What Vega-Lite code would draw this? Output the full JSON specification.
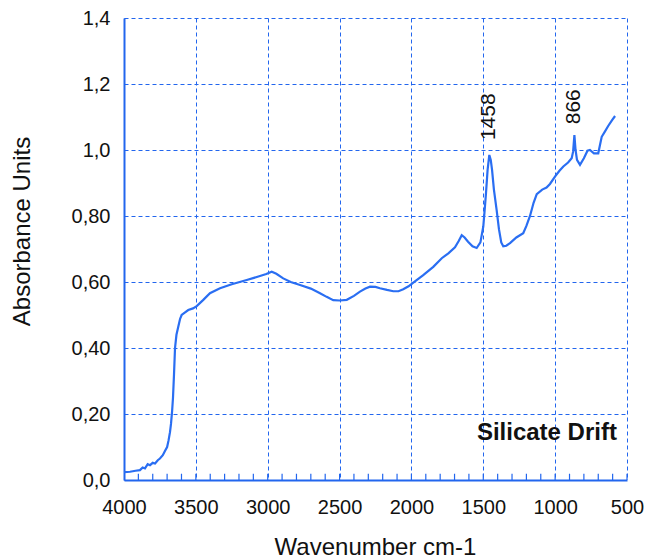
{
  "$schema": "https://vega.github.io/schema/vega-lite/v6.json",
  "width": 503,
  "height": 462,
  "autosize": {"type": "none"},
  "padding": {"left": 124, "top": 18, "right": 19, "bottom": 78},
  "background": "white",
  "config": {
    "view": {"stroke": null},
    "font": "Liberation Sans"
  },
  "datasets": {
    "spectrum": [
      {"w": 4000, "a": 0.024}, {"w": 3958, "a": 0.025}, {"w": 3920, "a": 0.028}, {"w": 3889, "a": 0.03},
      {"w": 3870, "a": 0.038}, {"w": 3854, "a": 0.035}, {"w": 3835, "a": 0.048}, {"w": 3819, "a": 0.045},
      {"w": 3800, "a": 0.052}, {"w": 3784, "a": 0.05}, {"w": 3765, "a": 0.06}, {"w": 3750, "a": 0.065},
      {"w": 3730, "a": 0.075}, {"w": 3715, "a": 0.088}, {"w": 3700, "a": 0.1}, {"w": 3690, "a": 0.12},
      {"w": 3680, "a": 0.145}, {"w": 3673, "a": 0.17}, {"w": 3665, "a": 0.21}, {"w": 3659, "a": 0.25},
      {"w": 3652, "a": 0.32}, {"w": 3645, "a": 0.4}, {"w": 3635, "a": 0.44}, {"w": 3622, "a": 0.465},
      {"w": 3610, "a": 0.488}, {"w": 3599, "a": 0.5}, {"w": 3575, "a": 0.508}, {"w": 3553, "a": 0.515},
      {"w": 3520, "a": 0.52}, {"w": 3494, "a": 0.527}, {"w": 3450, "a": 0.545}, {"w": 3402, "a": 0.566},
      {"w": 3332, "a": 0.581}, {"w": 3250, "a": 0.593}, {"w": 3146, "a": 0.606}, {"w": 3054, "a": 0.618},
      {"w": 3010, "a": 0.624}, {"w": 2972, "a": 0.631}, {"w": 2940, "a": 0.625}, {"w": 2892, "a": 0.611},
      {"w": 2840, "a": 0.6}, {"w": 2775, "a": 0.591}, {"w": 2700, "a": 0.58}, {"w": 2636, "a": 0.566},
      {"w": 2590, "a": 0.555}, {"w": 2544, "a": 0.545}, {"w": 2500, "a": 0.544}, {"w": 2450, "a": 0.546},
      {"w": 2400, "a": 0.558}, {"w": 2358, "a": 0.571}, {"w": 2320, "a": 0.58}, {"w": 2288, "a": 0.586},
      {"w": 2250, "a": 0.585}, {"w": 2219, "a": 0.581}, {"w": 2170, "a": 0.576}, {"w": 2126, "a": 0.572},
      {"w": 2090, "a": 0.572}, {"w": 2057, "a": 0.578}, {"w": 2020, "a": 0.587}, {"w": 1987, "a": 0.598},
      {"w": 1920, "a": 0.62}, {"w": 1848, "a": 0.646}, {"w": 1789, "a": 0.672}, {"w": 1743, "a": 0.687},
      {"w": 1697, "a": 0.705}, {"w": 1670, "a": 0.725}, {"w": 1650, "a": 0.742}, {"w": 1630, "a": 0.735},
      {"w": 1606, "a": 0.722}, {"w": 1575, "a": 0.708}, {"w": 1546, "a": 0.703}, {"w": 1520, "a": 0.72},
      {"w": 1500, "a": 0.768}, {"w": 1490, "a": 0.82}, {"w": 1481, "a": 0.87}, {"w": 1470, "a": 0.94},
      {"w": 1458, "a": 0.985}, {"w": 1448, "a": 0.97}, {"w": 1439, "a": 0.94}, {"w": 1426, "a": 0.88},
      {"w": 1407, "a": 0.818}, {"w": 1391, "a": 0.76}, {"w": 1375, "a": 0.72}, {"w": 1361, "a": 0.708},
      {"w": 1340, "a": 0.71}, {"w": 1314, "a": 0.718}, {"w": 1270, "a": 0.735}, {"w": 1222, "a": 0.748},
      {"w": 1200, "a": 0.77}, {"w": 1175, "a": 0.8}, {"w": 1150, "a": 0.84}, {"w": 1128, "a": 0.866},
      {"w": 1090, "a": 0.88}, {"w": 1060, "a": 0.886}, {"w": 1036, "a": 0.897}, {"w": 1000, "a": 0.92},
      {"w": 970, "a": 0.937}, {"w": 943, "a": 0.95}, {"w": 910, "a": 0.962}, {"w": 885, "a": 0.975},
      {"w": 875, "a": 0.995}, {"w": 866, "a": 1.045}, {"w": 858, "a": 1.0}, {"w": 848, "a": 0.97},
      {"w": 827, "a": 0.955}, {"w": 800, "a": 0.975}, {"w": 775, "a": 0.998}, {"w": 758, "a": 1.0},
      {"w": 730, "a": 0.99}, {"w": 700, "a": 0.99}, {"w": 688, "a": 1.015}, {"w": 676, "a": 1.04},
      {"w": 655, "a": 1.055}, {"w": 632, "a": 1.072}, {"w": 605, "a": 1.09}, {"w": 583, "a": 1.103}
    ],
    "minor": [
      {"w": 3900}, {"w": 3800}, {"w": 3700}, {"w": 3600}, {"w": 3500}, {"w": 3400}, {"w": 3300}, {"w": 3200},
      {"w": 3100}, {"w": 3000}, {"w": 2900}, {"w": 2800}, {"w": 2700}, {"w": 2600}, {"w": 2500}, {"w": 2400},
      {"w": 2300}, {"w": 2200}, {"w": 2100}, {"w": 2000}, {"w": 1900}, {"w": 1800}, {"w": 1700}, {"w": 1600},
      {"w": 1500}, {"w": 1400}, {"w": 1300}, {"w": 1200}, {"w": 1100}, {"w": 1000}, {"w": 900}, {"w": 800},
      {"w": 700}, {"w": 600}, {"w": 500}
    ],
    "peaks": [
      {"w": 1458, "a": 1.03, "label": "1458"},
      {"w": 866, "a": 1.078, "label": "866"}
    ],
    "notes": [
      {"w": 570, "a": 0.143, "label": "Silicate Drift"}
    ]
  },
  "layer": [
    {
      "data": {"name": "spectrum"},
      "mark": {"type": "line", "color": "#2a6ef2", "strokeWidth": 2.2, "interpolate": "linear"},
      "encoding": {
        "x": {
          "field": "w", "type": "quantitative",
          "scale": {"domain": [4000, 500], "nice": false, "zero": false},
          "axis": {
            "title": "Wavenumber cm-1",
            "values": [4000, 3500, 3000, 2500, 2000, 1500, 1000, 500],
            "tickCount": 100,
            "format": "d",
            "labelFont": "Liberation Sans", "labelFontSize": 20, "labelColor": "#111",
            "labelPadding": 17, "labelOverlap": false, "labelFlush": false,
            "titleFont": "Liberation Sans", "titleFontSize": 24, "titleFontWeight": "normal", "titleColor": "#111",
            "titleY": 67, "titleBaseline": "middle", "titleX": 251,
            "domainColor": "#2266ee", "domainWidth": 2,
            "ticks": false,
            "grid": true, "gridColor": "#2266ee", "gridDash": [4, 3], "gridWidth": 1
          }
        },
        "y": {
          "field": "a", "type": "quantitative",
          "scale": {"domain": [0, 1.4], "nice": false},
          "axis": {
            "title": "Absorbance Units",
            "values": [0, 0.2, 0.4, 0.6, 0.8, 1.0, 1.2, 1.4],
            "tickCount": 100,
            "labelExpr": "datum.value == 0 ? '0,0' : (datum.value < 0.9 ? replace(format(datum.value, '.2f'), '.', ',') : replace(format(datum.value, '.1f'), '.', ','))",
            "labelFont": "Liberation Sans", "labelFontSize": 20, "labelColor": "#111",
            "labelPadding": 14,
            "titleFont": "Liberation Sans", "titleFontSize": 24, "titleFontWeight": "normal", "titleColor": "#111",
            "titleX": -102, "titleY": 213, "titleAngle": 270, "titleAlign": "center", "titleBaseline": "middle",
            "domainColor": "#2266ee", "domainWidth": 2,
            "ticks": false,
            "grid": true, "gridColor": "#2266ee", "gridDash": [4, 3], "gridWidth": 1
          }
        }
      }
    },
    {
      "data": {"name": "minor"},
      "mark": {"type": "rule", "color": "#2266ee", "strokeWidth": 1.2},
      "encoding": {
        "x": {"field": "w", "type": "quantitative"},
        "y": {"datum": 0},
        "y2": {"datum": 0.019}
      }
    },
    {
      "data": {"name": "peaks"},
      "mark": {"type": "text", "angle": 270, "align": "left", "baseline": "middle", "font": "Liberation Sans", "fontSize": 21, "color": "#111"},
      "encoding": {
        "x": {"field": "w", "type": "quantitative"},
        "y": {"field": "a", "type": "quantitative"},
        "text": {"field": "label"}
      }
    },
    {
      "data": {"name": "notes"},
      "mark": {"type": "text", "align": "right", "baseline": "middle", "font": "Liberation Sans", "fontSize": 24, "fontWeight": "bold", "color": "#111"},
      "encoding": {
        "x": {"field": "w", "type": "quantitative"},
        "y": {"field": "a", "type": "quantitative"},
        "text": {"field": "label"}
      }
    }
  ]
}
